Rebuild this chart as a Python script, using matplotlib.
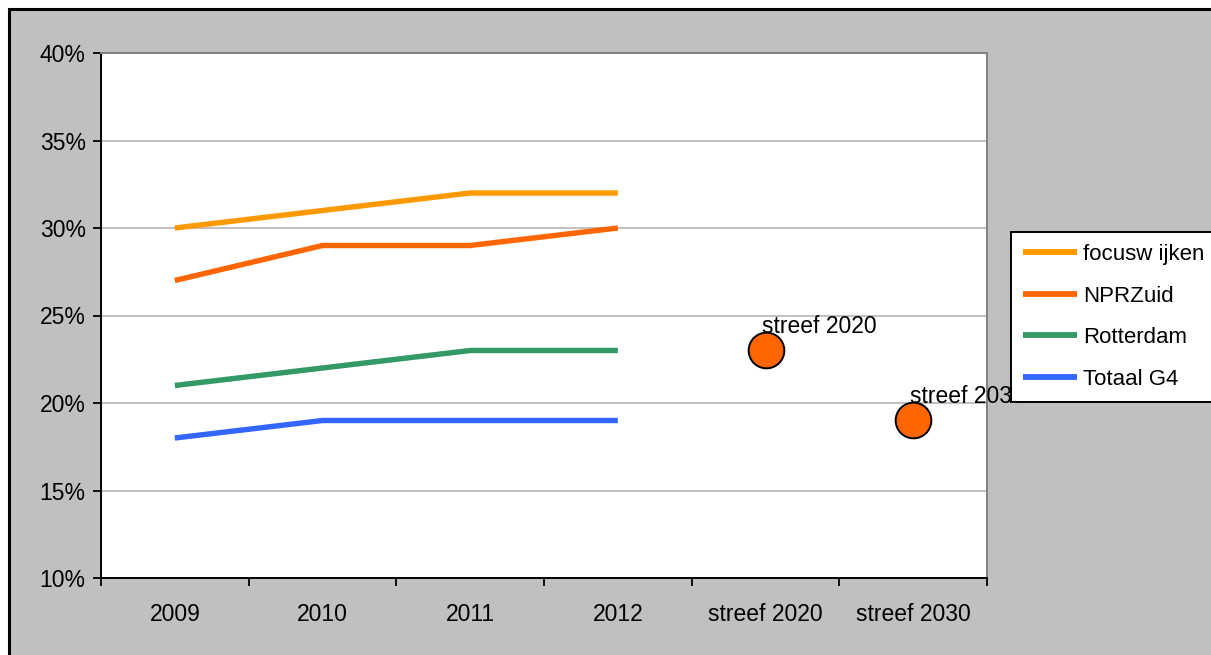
import matplotlib.pyplot as plt
import numpy as np
from matplotlib.patches import Rectangle

plt.rcParams['font.family'] = ['Liberation Sans', 'DejaVu Sans']

categories = ['2009', '2010', '2011', '2012', 'streef 2020', 'streef 2030']
series_names = ['focusw ijken', 'NPRZuid', 'Rotterdam', 'Totaal G4']
focuswijken = [30, 31, 32, 32]
nprzuid = [27, 29, 29, 30]
rotterdam = [21, 22, 23, 23]
totaal_g4 = [18, 19, 19, 19]
streef_values = [23.05, 19.02]
streef_labels = ['streef 2020', 'streef 2030']

colors = ['#FF9900', '#FF6600', '#339966', '#3366FF']

W, H = 1211, 655
fig = plt.figure(figsize=(W / 100, H / 100), dpi=100)
fig.patch.set_facecolor('white')

# grey chart area with black border
fig.patches.append(Rectangle((9 / W, -0.1), 1.2, 1 - 9 / H + 0.1, transform=fig.transFigure,
                             facecolor='#C0C0C0', edgecolor='black', linewidth=2.2, zorder=-10))

ax = fig.add_axes([101 / W, (H - 578) / H, 886 / W, 525 / H])
ax.set_facecolor('white')

x = np.arange(4)
for vals, name, c in zip([focuswijken, nprzuid, rotterdam, totaal_g4], series_names, colors):
    ax.plot(x, vals, color=c, linewidth=3.9, label=name, solid_capstyle='butt', zorder=3)

sx = np.array([4, 5])
ax.scatter(sx, streef_values, s=660, color='#FF6600', edgecolors='black', linewidths=1.4, zorder=4)
for xi, v, lab in zip(sx, streef_values, streef_labels):
    ax.annotate(lab, (xi, v), xytext=(-3, 17), textcoords='offset pixels',
                ha='left', va='baseline', fontsize=16.5, zorder=5)

ax.set_xlim(-0.5, 5.5)
ax.set_ylim(10, 40)
ax.set_yticks(np.arange(10, 41, 5))
ax.set_yticklabels(['{0}%'.format(v) for v in range(10, 41, 5)])
ax.yaxis.grid(True, color='#C0C0C0', linewidth=1.4)
ax.set_axisbelow(True)

ax.set_xticks(np.arange(-0.5, 6, 1))
ax.set_xticklabels([])
ax.set_xticks(np.arange(6), minor=True)
ax.set_xticklabels(categories, minor=True)
ax.tick_params(axis='x', which='major', direction='out', length=6, width=1.3)
ax.tick_params(axis='x', which='minor', length=0, pad=18, labelsize=16.5)
ax.tick_params(axis='y', direction='out', length=6, width=1.3, labelsize=16.5, pad=5)

for s in ['left', 'bottom']:
    ax.spines[s].set_color('black')
    ax.spines[s].set_linewidth(1.4)
for s in ['top', 'right']:
    ax.spines[s].set_color('#808080')
    ax.spines[s].set_linewidth(1.4)

leg = fig.legend(loc='upper left', bbox_to_anchor=(1011 / W, 1 - 232 / H), fontsize=16,
                 frameon=True, fancybox=False, edgecolor='black', framealpha=1,
                 borderaxespad=0, handlelength=2.4, labelspacing=0.92, borderpad=0.55,
                 handletextpad=0.3)
leg.get_frame().set_linewidth(1.4)
for line in leg.get_lines():
    line.set_linewidth(4.2)

fig.savefig('out.png', dpi=100)
